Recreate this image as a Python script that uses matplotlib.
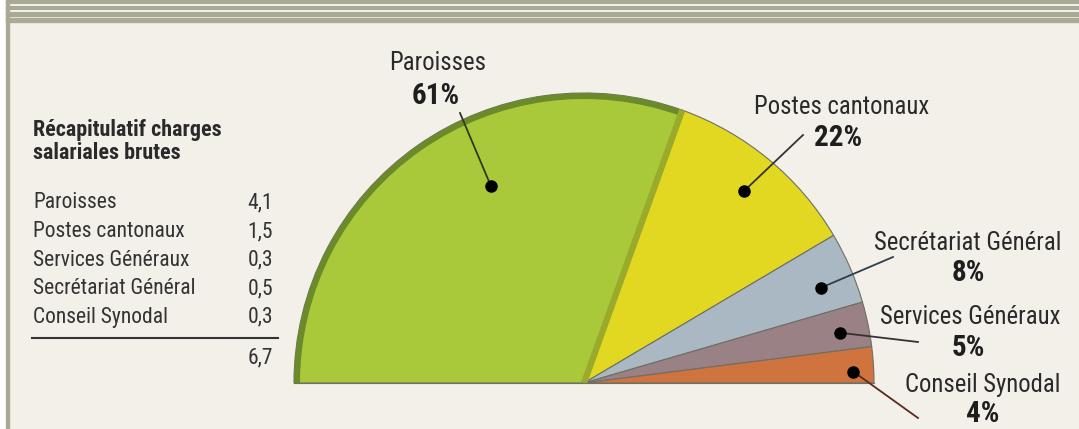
import numpy as np
import matplotlib
matplotlib.use("Agg")
import matplotlib.pyplot as plt
from matplotlib.patches import Wedge, Rectangle

# ---- data ----
slice_labels = ["Paroisses", "Postes cantonaux", "Secrétariat Général",
                "Services Généraux", "Conseil Synodal"]
slice_pcts = [61, 22, 8, 5, 4]
table_labels = ["Paroisses", "Postes cantonaux", "Services Généraux",
                "Secrétariat Général", "Conseil Synodal"]
table_values = ["4,1", "1,5", "0,3", "0,5", "0,3"]
table_total = "6,7"
table_title = ["Récapitulatif charges", "salariales brutes"]

# ---- style / layout ----
W, H = 1079, 429
colors = ["#a9c83a", "#e2d821", "#a9b8c2", "#9a8186", "#cf743f"]
FONT = ["Roboto Condensed", "Lato", "DejaVu Sans"]
plt.rcParams["font.family"] = FONT

fig = plt.figure(figsize=(W / 100, H / 100), dpi=100)
fig.patch.set_facecolor("#f2f0e8")
ax = fig.add_axes([0, 0, 1, 1])

def Y(y):
    return H - y

# ---- half pie ----
cx, cy, R = 584, Y(383), 290
wedges, _ = ax.pie(np.array(slice_pcts) / 200.0, normalize=False,
                   colors=colors, startangle=180, counterclock=False,
                   center=(cx, cy), radius=R, frame=True,
                   wedgeprops=dict(edgecolor="#6f6f62", linewidth=0.8))
ax.set_xlim(0, W)
ax.set_ylim(0, H)
ax.set_aspect("equal")
ax.axis("off")
for w in wedges:
    w.set_zorder(3)

# frame: top stripes + left border
stripe_col = "#aaa995"
ax.add_patch(Rectangle((0, Y(22)), W, 22, color="white", zorder=1))
for y0, y1 in [(0, 2.7), (6, 9), (12, 16), (18, 22)]:
    ax.add_patch(Rectangle((6, Y(y1)), W - 6, y1 - y0, color=stripe_col, zorder=2))
ax.add_patch(Rectangle((0, 0), 6, H, color="white", zorder=1))
ax.add_patch(Rectangle((6, 0), 3, Y(0), color=stripe_col, zorder=2))

# dark outer rim for Paroisses and olive separator
w0 = wedges[0]
ax.add_patch(Wedge((cx, cy), R, w0.theta1, w0.theta2, width=6,
                   facecolor="#6a8a2b", edgecolor="none", zorder=4))
ang = np.deg2rad(w0.theta1)
ax.plot([cx, cx + R * np.cos(ang)], [cy, cy + R * np.sin(ang)],
        color="#9aab2c", lw=4.5, solid_capstyle="butt", zorder=4)
ax.plot([cx - R, cx + R], [cy, cy], color="#6f6f62", lw=0.8, zorder=4)

# ---- labels with leader lines ----
# (dot angle offset from slice middle, dot radius fraction, line end, label centre, pct centre)
layout = [
    (-9.8, 0.75, (460, 113), (438, 63), (436, 96)),
    (-0.2, 0.86, (803, 135), (842, 107), (838, 138)),
    (-1.5, 0.88, (893, 257), (968, 243), (968, 273)),
    (-0.6, 0.90, (918, 342), (970, 317), (968, 348)),
    (-1.2, 0.93, (918, 418), (983, 385), (983, 414)),
]
line_cols = ["#2e3a20", "#333333", "#2f3f4a", "#333333", "#5a2a20"]
for w, lab, pct, (dang, rf, lend, lpos, ppos), lc in zip(
        wedges, slice_labels, slice_pcts, layout, line_cols):
    mid = 0.5 * (w.theta1 + w.theta2) + dang
    a = np.deg2rad(mid)
    dx, dy = cx + rf * R * np.cos(a), cy + rf * R * np.sin(a)
    ax.plot([dx, lend[0]], [dy, Y(lend[1])], color=lc, lw=1.3, zorder=5)
    ax.plot(dx, dy, "o", color="black", ms=8, zorder=6)
    ax.text(lpos[0], Y(lpos[1]), lab, ha="center", va="center",
            fontsize=17.8, color="#2a2a2a", zorder=6)
    ax.text(ppos[0], Y(ppos[1]), f"{pct}%", ha="center", va="center",
            fontsize=21, fontweight="bold", color="#1e1e1e", zorder=6)

# ---- summary table ----
for i, t in enumerate(table_title):
    ax.text(33, Y(130 + 23 * i), t, ha="left", va="center", fontsize=15.8,
            fontweight="bold", color="#2a2a2a", zorder=6)
row_y = [203, 231.5, 260, 288.5, 317]
for lab, val, yy in zip(table_labels, table_values, row_y):
    ax.text(33, Y(yy), lab, ha="left", va="center", fontsize=15.5,
            color="#333333", zorder=6)
    ax.text(273, Y(yy), val, ha="right", va="center", fontsize=15.5,
            color="#333333", zorder=6)
ax.plot([32, 278], [Y(338), Y(338)], color="#333333", lw=1.5, zorder=6)
ax.text(273, Y(358), table_total, ha="right", va="center", fontsize=15.5,
        color="#333333", zorder=6)

fig.savefig("out.png", dpi=100, facecolor=fig.get_facecolor())
